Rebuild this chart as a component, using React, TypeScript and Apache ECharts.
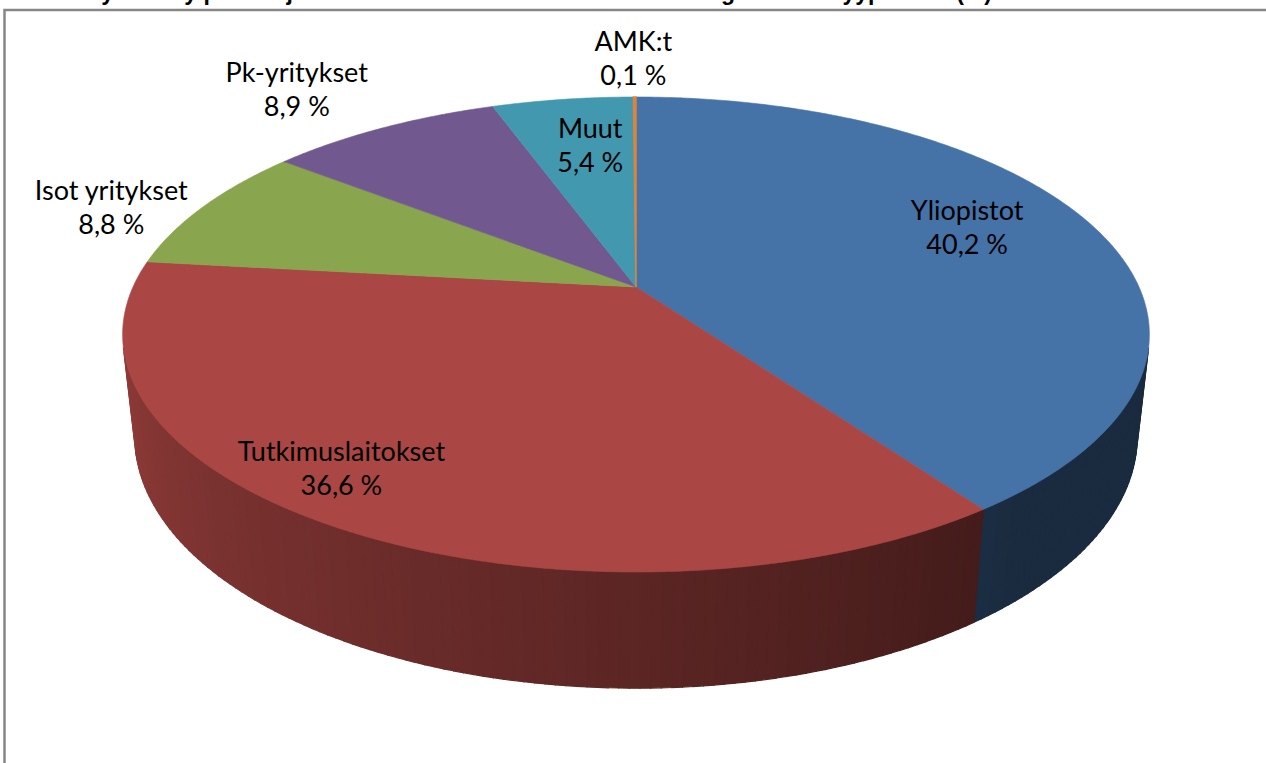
import React, { useEffect, useRef } from "react";
import * as echarts from "echarts";

// ---- data ----
const categories = ["Yliopistot", "Tutkimuslaitokset", "Isot yritykset", "Pk-yritykset", "Muut", "AMK:t"];
const shares = [40.2, 36.6, 8.8, 8.9, 5.4, 0.1];
const sliceColors = ["#4572A7", "#AA4643", "#89A54E", "#71588F", "#4198AF", "#DB843D"];
const chartTitle = "Kuvio 6. Myönnetty puiteohjelmarahoitus Suomeen vuonna 2010 organisaatiotyypeittäin (%)";

// ---- 3D projection of the pie (perspective view from above) ----
const CX = 636;
const CY = 287;
const A = 503;
const SIN = 0.4533;
const COS = 0.8913;
const DP = 0.2244;
const H = 0.228;
const VIS_MIN = (Math.acos(-DP / COS) * 180) / Math.PI;
const VIS_MAX = 360 - VIS_MIN;

function project(deg: number, r: number, z: number): number[] {
  const t = (deg * Math.PI) / 180;
  const X = r * Math.sin(t);
  const Y = r * Math.cos(t);
  const Z = -H * z;
  const dist = 1 + DP * (Y * COS - Z * SIN);
  return [CX + (A * X) / dist, CY - (A * (Y * SIN + Z * COS)) / dist];
}

function shade(hex: string, f: number): string {
  const n = parseInt(hex.slice(1), 16);
  const r = Math.round(((n >> 16) & 255) * f);
  const g = Math.round(((n >> 8) & 255) * f);
  const b = Math.round((n & 255) * f);
  return `rgb(${r},${g},${b})`;
}

function sideFactor(deg: number): number {
  const t = Math.min(1, Math.max(0, (deg - 140) / 115));
  return 0.38 + 0.45 * t;
}

const total = shares.reduce((a, b) => a + b, 0);
const startAngles: number[] = [];
const endAngles: number[] = [];
{
  let cum = 0;
  shares.forEach((v) => {
    startAngles.push((cum / total) * 360);
    cum += v;
    endAngles.push((cum / total) * 360);
  });
}
const fmt = (v: number) => v.toFixed(1).replace(".", ",") + " %";

// label anchors: [angle, radius] in pie space
const LABEL_ANCHORS = [
  [68, 0.75],
  [216.5, 0.85],
  [288.7, 1.185],
  [322.3, 1.336],
  [351.7, 0.72],
  [359.7, 1.26],
];

const FONT = "Lato, 'Open Sans', sans-serif";

export default function App() {
  const ref = useRef<HTMLDivElement>(null);
  useEffect(() => {
    if (!ref.current) return;
    const chart = echarts.init(ref.current, undefined, { renderer: "svg" });

    const sideRender = (params: any) => {
      const i = params.dataIndex;
      const a0 = Math.max(startAngles[i], VIS_MIN);
      const a1 = Math.min(endAngles[i], VIS_MAX);
      const children: any[] = [];
      if (a1 > a0) {
        const n = Math.max(1, Math.ceil(a1 - a0));
        for (let k = 0; k < n; k++) {
          const t0 = a0 + ((a1 - a0) * k) / n;
          const t1 = a0 + ((a1 - a0) * (k + 1)) / n;
          const col = shade(sliceColors[i], sideFactor((t0 + t1) / 2));
          children.push({
            type: "polygon",
            shape: { points: [project(t0, 1, 0), project(t1, 1, 0), project(t1, 1, 1), project(t0, 1, 1)] },
            style: { fill: col, stroke: col, lineWidth: 1.2 },
          });
        }
      }
      return { type: "group", children };
    };

    const topRender = (params: any) => {
      const i = params.dataIndex;
      const a0 = startAngles[i];
      const a1 = endAngles[i];
      const n = Math.max(2, Math.ceil((a1 - a0) * 2));
      const pts: number[][] = [project(0, 0, 0)];
      for (let k = 0; k <= n; k++) pts.push(project(a0 + ((a1 - a0) * k) / n, 1, 0));
      return {
        type: "polygon",
        shape: { points: pts },
        style: { fill: sliceColors[i], stroke: sliceColors[i], lineWidth: i === 5 ? 1.5 : 0.6 },
      };
    };

    const labelRender = (params: any) => {
      const i = params.dataIndex;
      const [ang, r] = LABEL_ANCHORS[i];
      const [x, y] = project(ang, r, 0);
      return {
        type: "text",
        x,
        y,
        style: {
          text: categories[i] + "\n" + fmt(shares[i]),
          fill: "#000",
          fontSize: 27,
          fontFamily: FONT,
          lineHeight: 34,
          align: "center",
          textAlign: "center",
          verticalAlign: "middle",
          textVerticalAlign: "middle",
        },
      };
    };

    chart.setOption({
      animation: false,
      graphic: [
        {
          type: "rect",
          shape: { x: 4.5, y: 10, width: 1300, height: 800 },
          style: { fill: "none", stroke: "#868686", lineWidth: 2.5 },
          z: 0,
        },
        {
          type: "text",
          x: 992,
          y: 3,
          style: {
            text: chartTitle,
            fill: "#000",
            fontSize: 23,
            fontWeight: "bold",
            fontFamily: "'Liberation Sans', Arial, sans-serif",
            align: "right",
            textAlign: "right",
            verticalAlign: "bottom",
            textVerticalAlign: "bottom",
          },
        },
      ],
      series: [
        { type: "custom", coordinateSystem: "none", renderItem: sideRender, data: shares, z: 1, silent: true },
        { type: "custom", coordinateSystem: "none", renderItem: topRender, data: shares, z: 2, silent: true },
        { type: "custom", coordinateSystem: "none", renderItem: labelRender, data: shares, z: 3, silent: true },
      ],
    });
    return () => chart.dispose();
  }, []);
  return <div ref={ref} style={{ position: "absolute", left: 0, top: 0, width: 1266, height: 763, background: "#fff" }} />;
}
